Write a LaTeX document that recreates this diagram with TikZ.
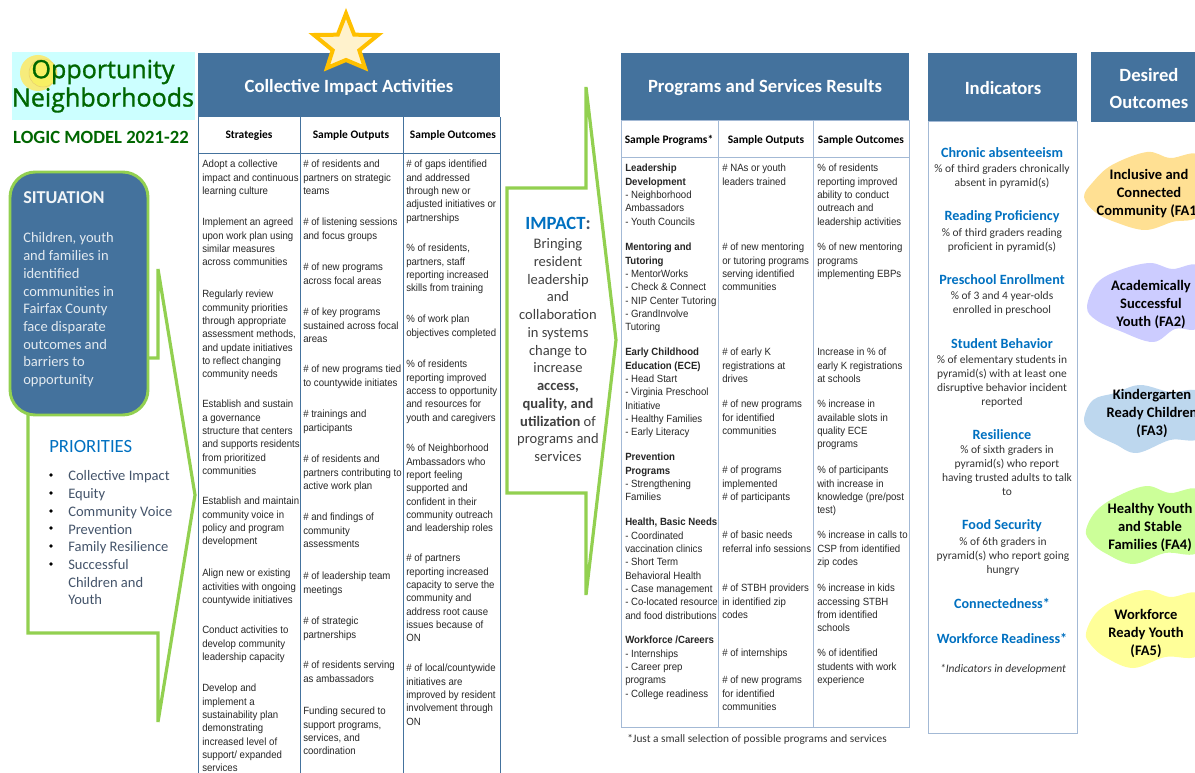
\documentclass[tikz,border=0pt]{standalone}
\usepackage{fontspec}
\usepackage{tikz}
\setmainfont{Carlito}
\newfontfamily\arialfont[FakeStretch=0.92]{Liberation Sans}
\newfontfamily\logofont[FakeBold=1.2]{Open Sans}
\definecolor{headblue}{HTML}{44729D}
\definecolor{paleblue}{HTML}{A3B9D5}
\definecolor{arrowgreen}{HTML}{92D050}
\definecolor{titleblue}{HTML}{0070C0}
\definecolor{logogreen}{HTML}{006600}
\definecolor{slatetext}{HTML}{44546A}
\definecolor{logocyan}{HTML}{CCFFFF}
\definecolor{sunouter}{HTML}{F6EC7C}
\definecolor{sunring}{HTML}{E8D070}
\definecolor{stargold}{HTML}{FFC000}
\definecolor{starfill}{HTML}{FFF2CC}
\definecolor{blobA}{HTML}{FFE093}
\definecolor{blobB}{HTML}{CCCCFF}
\definecolor{blobC}{HTML}{BDD7EE}
\definecolor{blobD}{HTML}{CCFF99}
\definecolor{blobE}{HTML}{FFFF99}
\tikzset{
  cell/.style={anchor=north west, inner sep=0pt, align=left, text=black!85, yshift=-2.25pt,
    font=\fontsize{7.85}{10}\selectfont\arialfont},
  subhead/.style={inner sep=0pt, font=\fontsize{8.6}{10}\selectfont\bfseries},
  headtext/.style={inner sep=0pt, text=white, align=center, font=\fontsize{14}{20}\selectfont\bfseries},
  indtitle/.style={inner sep=0pt, text=titleblue, font=\fontsize{10.6}{13}\selectfont\bfseries},
  indbody/.style={anchor=north, inner sep=0pt, align=center, text=black!80, yshift=-2pt,
    font=\fontsize{8.6}{10.4}\selectfont},
  outcome/.style={anchor=north, inner sep=0pt, align=center, yshift=-3pt,
    font=\fontsize{10.9}{13.2}\selectfont\bfseries},
  bodytext/.style={inner sep=0pt, yshift=-3pt, font=\fontsize{10.9}{13.3}\selectfont},
  blueline/.style={draw=headblue, line width=0.75pt},
  paleline/.style={draw=paleblue, line width=0.75pt},
  greenline/.style={draw=arrowgreen, line width=2.4pt, line join=miter}
}
\begin{document}
\begin{tikzpicture}[x=0.75pt,y=-0.75pt]
\useasboundingbox (0,0) rectangle (1195,773);

% logo
\fill[logocyan] (12,52) rectangle (195,120);
\fill[sunouter] (38,73) circle (18);
\draw[sunring, fill=sunouter!80!yellow] (43,73) circle (14);
\node (logoA) [inner sep=0pt, text=logogreen, font=\fontsize{18.8}{24}\selectfont\logofont] at (103,72) {Opportunity};
\node (logoB) [inner sep=0pt, text=logogreen, font=\fontsize{18.8}{24}\selectfont\logofont] at (103,100) {Neighborhoods};
\node (logic) [inner sep=0pt, text=logogreen, font=\fontsize{14}{16}\selectfont\bfseries] at (101,137) {LOGIC MODEL 2021-22};

% left green arrow, then the situation box on top of it
\draw[greenline] (148,358) -- (158,358) -- (158,269) -- (195,495) -- (158,722) -- (158,633) -- (28,633) -- (28,410);
\draw[draw=arrowgreen, line width=2.2pt, fill=headblue, rounded corners=19pt] (10,172) rectangle (148,415);
\node (sitTitle) [anchor=west, inner sep=0pt, text=white!92!headblue, font=\fontsize{13.6}{16}\selectfont\bfseries] at (23,198) {SITUATION};
\node (sitBody) [bodytext, anchor=north west, align=left, text=white!85!headblue] at (23,228.5)
  {Children, youth\\and families in\\identified\\communities in\\Fairfax County\\face disparate\\outcomes and\\barriers to\\opportunity};

% priorities
\node (prioTitle) [anchor=west, inner sep=0pt, text=titleblue, font=\fontsize{14}{16}\selectfont] at (49,447) {PRIORITIES};
\node (prioList) [bodytext, anchor=north west, align=left, text=slatetext] at (68,466.5)
  {Collective Impact\\Equity\\Community Voice\\Prevention\\Family Resilience\\Successful\\Children and\\Youth};
\foreach \y [count=\i] in {475,493,511,528,546,564}
  \fill (51,\y) circle (1.8);

% collective impact table
\fill[headblue] (198,53) rectangle (500,117);
\node (ciHead) [headtext] at (349,87) {Collective Impact Activities};
\draw[blueline] (198,117) -- (198,773);
\draw[blueline] (300,117) -- (300,773);
\draw[blueline] (403,117) -- (403,773);
\draw[blueline] (500,117) -- (500,773);
\draw[blueline] (198,154) -- (500,154);
\node (ciSubA) [subhead] at (249,135) {Strategies};
\node (ciSubB) [subhead] at (351,135) {Sample Outputs};
\node (ciSubC) [subhead] at (453,135) {Sample Outcomes};

\node (stratA) [cell] at (202,157) {Adopt a collective\\impact and continuous\\learning culture};
\node (stratB) [cell] at (202,215) {Implement an agreed\\upon work plan using\\similar measures\\across communities};
\node (stratC) [cell] at (202,287) {Regularly review\\community priorities\\through appropriate\\assessment methods,\\and update initiatives\\to reflect changing\\community needs};
\node (stratD) [cell] at (202,397) {Establish and sustain\\a governance\\structure that centers\\and supports residents\\from prioritized\\communities};
\node (stratE) [cell] at (202,494) {Establish and maintain\\community voice in\\policy and program\\development};
\node (stratF) [cell] at (202,566) {Align new or existing\\activities with ongoing\\countywide initiatives};
\node (stratG) [cell] at (202,623) {Conduct activities to\\develop community\\leadership capacity};
\node (stratH) [cell] at (202,681) {Develop and\\implement a\\sustainability plan\\demonstrating\\increased level of\\support/ expanded\\services};

\node (outA) [cell] at (303,157) {\# of residents and\\partners on strategic\\teams};
\node (outB) [cell] at (303,215) {\# of listening sessions\\and focus groups};
\node (outC) [cell] at (303,260) {\# of new programs\\across focal areas};
\node (outD) [cell] at (303,305) {\# of key programs\\sustained across focal\\areas};
\node (outE) [cell] at (303,362) {\# of new programs tied\\to countywide initiates};
\node (outF) [cell] at (303,407) {\# trainings and\\participants};
\node (outG) [cell] at (303,452) {\# of residents and\\partners contributing to\\active work plan};
\node (outH) [cell] at (303,510) {\# and findings of\\community\\assessments};
\node (outI) [cell] at (303,569) {\# of leadership team\\meetings};
\node (outJ) [cell] at (303,614) {\# of strategic\\partnerships};
\node (outK) [cell] at (303,658) {\# of residents serving\\as ambassadors};
\node (outL) [cell] at (303,704) {Funding secured to\\support programs,\\services, and\\coordination};

\node (resA) [cell] at (406,157) {\# of gaps identified\\and addressed\\through new or\\adjusted initiatives or\\partnerships};
\node (resB) [cell] at (406,241) {\% of residents,\\partners, staff\\reporting increased\\skills from training};
\node (resC) [cell] at (406,312) {\% of work plan\\objectives completed};
\node (resD) [cell] at (406,357) {\% of residents\\reporting improved\\access to opportunity\\and resources for\\youth and caregivers};
\node (resE) [cell] at (406,441) {\% of Neighborhood\\Ambassadors who\\report feeling\\supported and\\confident in their\\community outreach\\and leadership roles};
\node (resF) [cell] at (406,551) {\# of partners\\reporting increased\\capacity to serve the\\community and\\address root cause\\issues because of\\ON};
\node (resG) [cell] at (406,661) {\# of local/countywide\\initiatives are\\improved by resident\\involvement through\\ON};

% middle green arrow
\draw[greenline] (586,87) -- (586,188) -- (507,188) -- (507,493) -- (586,493) -- (586,595) -- (616,340) -- cycle;
\node (impTitle) [inner sep=0pt, text=titleblue, font=\fontsize{14}{16}\selectfont\bfseries] at (558,223) {IMPACT\textcolor{slatetext}{:}};
\node (impBody) [bodytext, anchor=north, align=center, text=black!75] at (558,234.5)
  {Bringing\\resident\\leadership\\and\\collaboration\\in systems\\change to\\increase\\\textbf{access,}\\\textbf{quality, and}\\\textbf{utilization} of\\programs and\\services};

% programs table
\fill[headblue] (621,53) rectangle (909,121);
\node (progHead) [headtext] at (765,88) {Programs and Services Results};
\draw[paleline] (621,121) rectangle (909,727);
\draw[paleline] (718,121) -- (718,727);
\draw[paleline] (813,121) -- (813,727);
\draw[paleline] (621,158) -- (909,158);
\node (progSubA) [subhead] at (669,140) {Sample Programs*};
\node (progSubB) [subhead] at (766,140) {Sample Outputs};
\node (progSubC) [subhead] at (861,140) {Sample Outcomes};

\node (progA) [cell] at (625,161) {\textbf{Leadership}\\\textbf{Development}\\- Neighborhood\\Ambassadors\\- Youth Councils};
\node (progB) [cell] at (625,240) {\textbf{Mentoring and}\\\textbf{Tutoring}\\- MentorWorks\\- Check \& Connect\\- NIP Center Tutoring\\- GrandInvolve\\Tutoring};
\node (progC) [cell] at (625,345) {\textbf{Early Childhood}\\\textbf{Education (ECE)}\\- Head Start\\- Virginia Preschool\\Initiative\\- Healthy Families\\- Early Literacy};
\node (progD) [cell] at (625,450) {\textbf{Prevention}\\\textbf{Programs}\\- Strengthening\\Families};
\node (progE) [cell] at (625,515) {\textbf{Health, Basic Needs}\\- Coordinated\\vaccination clinics\\- Short Term\\Behavioral Health\\- Case management\\- Co-located resource\\and food distributions};
\node (progF) [cell] at (625,633) {\textbf{Workforce /Careers}\\- Internships\\- Career prep\\programs\\- College readiness};

\node (pOutA) [cell] at (722,161) {\# NAs or youth\\leaders trained};
\node (pOutB) [cell] at (722,240) {\# of new mentoring\\or tutoring programs\\serving identified\\communities};
\node (pOutC) [cell] at (722,345) {\# of early K\\registrations at\\drives};
\node (pOutD) [cell] at (722,397) {\# of new programs\\for identified\\communities};
\node (pOutE) [cell] at (722,463) {\# of programs\\implemented\\\#  of  participants};
\node (pOutF) [cell] at (722,528) {\# of basic needs\\referral info sessions};
\node (pOutG) [cell] at (722,581) {\# of STBH providers\\in identified zip\\codes};
\node (pOutH) [cell] at (722,646) {\# of internships};
\node (pOutI) [cell] at (722,673) {\# of new programs\\for identified\\communities};

\node (pResA) [cell] at (817,161) {\% of residents\\reporting improved\\ability to conduct\\outreach and\\leadership activities};
\node (pResB) [cell] at (817,240) {\% of new mentoring\\programs\\implementing EBPs};
\node (pResC) [cell] at (817,345) {Increase in \% of\\early K registrations\\at schools};
\node (pResD) [cell] at (817,397) {\% increase in\\available slots in\\quality ECE\\programs};
\node (pResE) [cell] at (817,463) {\% of participants\\with increase in\\knowledge (pre/post\\test)};
\node (pResF) [cell] at (817,528) {\% increase in calls to\\CSP from identified\\zip codes};
\node (pResG) [cell] at (817,581) {\% increase in kids\\accessing STBH\\from identified\\schools};
\node (pResH) [cell] at (817,646) {\% of identified\\students with work\\experience};

\node (progNote) [anchor=west, inner sep=0pt, text=black!80, font=\fontsize{8.5}{10}\selectfont] at (627,739) {*Just a small selection of possible programs and services};

% indicators
\fill[headblue] (928,53) rectangle (1077,122);
\node (indHead) [headtext] at (1003,88) {Indicators};
\draw[paleline] (928,122) rectangle (1077,733);

\node (indA) [indtitle] at (1002,153) {Chronic absenteeism};
\node (indAb) [indbody] at (1002,162) {\% of third graders chronically\\absent in pyramid(s)};
\node (indB) [indtitle] at (1002,217) {Reading Proficiency};
\node (indBb) [indbody] at (1002,226) {\% of third graders reading\\proficient in pyramid(s)};
\node (indC) [indtitle] at (1002,280) {Preschool Enrollment};
\node (indCb) [indbody] at (1002,289) {\% of 3 and 4 year-olds\\enrolled in preschool};
\node (indD) [indtitle] at (1002,344) {Student Behavior};
\node (indDb) [indbody] at (1002,353) {\% of elementary students in\\pyramid(s) with at least one\\disruptive behavior incident\\reported};
\node (indE) [indtitle] at (1002,435) {Resilience};
\node (indEb) [indbody] at (1007,443) {\% of sixth graders in\\pyramid(s) who report\\having trusted adults to talk\\to};
\node (indF) [indtitle] at (1002,526) {Food Security};
\node (indFb) [indbody] at (1003,535) {\% of 6th graders in\\pyramid(s) who report going\\hungry};
\node (indG) [indtitle] at (1002,603) {Connectedness*};
\node (indH) [indtitle] at (1002,638) {Workforce Readiness*};
\node (indNote) [inner sep=0pt, text=black!80, font=\fontsize{8.6}{10}\selectfont\itshape] at (1003,669) {*Indicators in development};

% desired outcomes
\fill[headblue] (1091,52) rectangle (1195,122);
\node (outHead) [headtext] at (1149,88.5) {Desired\\Outcomes};

\fill[blobA] plot[smooth cycle, tension=0.6] coordinates {(1084,197) (1093,182) (1112,165) (1147,152) (1170,158) (1200,157) (1200,213) (1172,222) (1145,230) (1115,222) (1095,212)};
\fill[blobB] plot[smooth cycle, tension=0.6] coordinates {(1087,307) (1097,283) (1120,270) (1150,263) (1172,269) (1200,268) (1200,325) (1175,329) (1153,342) (1120,331) (1096,320)};
\fill[blobC] plot[smooth cycle, tension=0.6] coordinates {(1084,420) (1093,400) (1115,393) (1140,385) (1170,392) (1200,393) (1200,437) (1170,440) (1137,453) (1115,444) (1093,433)};
\fill[blobD] plot[smooth cycle, tension=0.6] coordinates {(1086,530) (1097,510) (1120,495) (1147,486) (1170,493) (1200,492) (1200,550) (1165,553) (1133,564) (1105,553) (1091,542)};
\fill[blobE] plot[smooth cycle, tension=0.6] coordinates {(1086,633) (1097,612) (1120,598) (1147,590) (1170,597) (1200,596) (1200,653) (1165,657) (1133,668) (1105,657) (1091,645)};

\node (faA) [outcome] at (1149,165.5) {Inclusive and\\Connected\\Community (FA1)};
\node (faB) [outcome] at (1151,276.5) {Academically\\Successful\\Youth (FA2)};
\node (faC) [outcome] at (1152,385.5) {Kindergarten\\Ready Children\\(FA3)};
\node (faD) [outcome] at (1150,499.5) {Healthy Youth\\and Stable\\Families (FA4)};
\node (faE) [outcome] at (1146,605.5) {Workforce\\Ready Youth\\(FA5)};

% star over the first header
\draw[draw=stargold, fill=starfill, line width=3pt, line join=miter]
  (346,13.5) -- (354.2,34.7) -- (378,35) -- (359.3,50.3) -- (365,68) -- (346,60)
  -- (327,68) -- (332.7,50.3) -- (314,35) -- (337.8,34.7) -- cycle;
\end{tikzpicture}
\end{document}
